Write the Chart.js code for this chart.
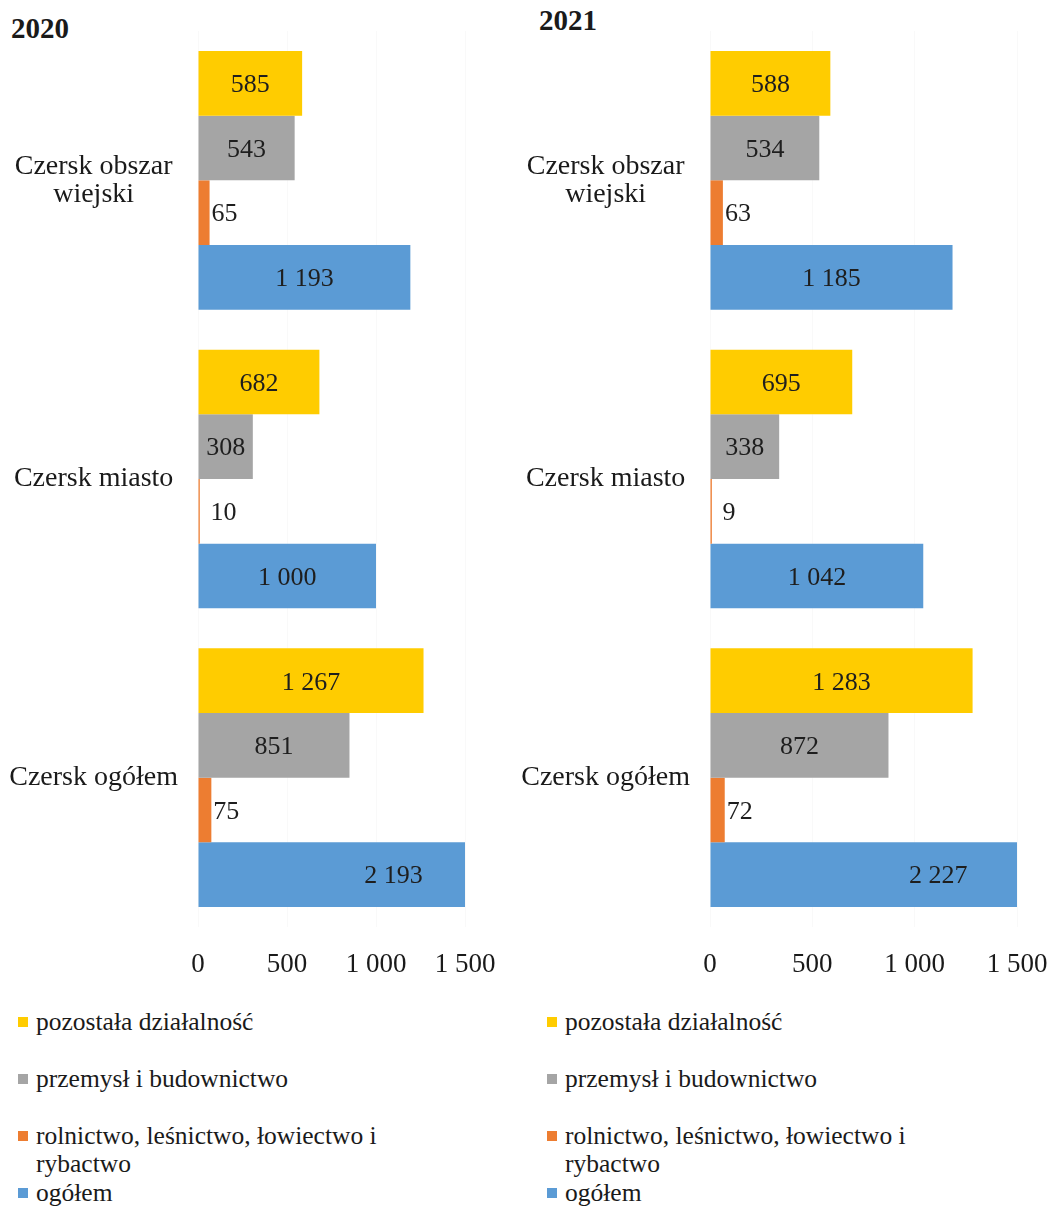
<!DOCTYPE html>
<html lang="pl">
<head>
<meta charset="utf-8">
<script src="https://cdn.jsdelivr.net/npm/chart.js@4.4.0/dist/chart.umd.min.js"></script>
<style>
  body { margin: 0; background: #fff; width: 1058px; height: 1208px; overflow: hidden; position: relative; font-family: "Liberation Serif", serif; color: #1a1a1a; }
  .panel { position: absolute; top: 0; height: 990px; }
  .year { position: absolute; font-weight: bold; font-size: 29px; line-height: 32px; }
  .legend { position: absolute; top: 1008px; font-size: 25.5px; line-height: 28px; }
  .legend-item { position: relative; height: 57px; padding-left: 18px; }
  .legend-item span.box { position: absolute; left: 0; top: 9px; width: 10px; height: 10px; }
</style>
</head>
<body>
<div class="year" style="left:11px; top:12px;">2020</div>
<div class="year" style="left:539px; top:4px;">2021</div>
<div class="panel" style="left:0; width:500px;"><canvas id="chart2020"></canvas></div>
<div class="panel" style="left:500px; width:558px;"><canvas id="chart2021"></canvas></div>
<div class="legend" id="legend2020" style="left:18px; width:400px;"></div>
<div class="legend" id="legend2021" style="left:547px; width:410px;"></div>

<script>
const FONT = '"Liberation Serif", serif';

// Categories (top to bottom)
const categories = [["Czersk obszar", "wiejski"], "Czersk miasto", "Czersk ogółem"];
const seriesNames = ["pozostała działalność", "przemysł i budownictwo", "rolnictwo, leśnictwo, łowiectwo i rybactwo", "ogółem"];
const seriesColors = ["#FFCC00", "#A5A5A5", "#ED7D31", "#5B9BD5"];

// 2020
const pozostala2020 = [585, 682, 1267];
const przemysl2020 = [543, 308, 851];
const rolnictwo2020 = [65, 10, 75];
const ogolem2020 = [1193, 1000, 2193];

// 2021
const pozostala2021 = [588, 695, 1283];
const przemysl2021 = [534, 338, 872];
const rolnictwo2021 = [63, 9, 72];
const ogolem2021 = [1185, 1042, 2227];

const tickValues = [0, 500, 1000, 1500];

function fmt(v) {
  return String(v).replace(/\B(?=(\d{3})+(?!\d))/g, " ");
}

// value labels, Excel style: centred on full bar, small ones just after the bar
const valueLabels = {
  id: "valueLabels",
  afterDatasetsDraw(chart) {
    const ctx = chart.ctx;
    ctx.save();
    ctx.font = "26px " + FONT;
    ctx.fillStyle = "#1e1e1e";
    ctx.textBaseline = "middle";
    chart.data.datasets.forEach((ds, i) => {
      chart.getDatasetMeta(i).data.forEach((bar, j) => {
        const v = ds.data[j];
        if (v < 100) {
          ctx.textAlign = "left";
          ctx.fillText(fmt(v), Math.max(bar.x + 2, bar.base + 12), bar.y + 2);
        } else {
          ctx.textAlign = "center";
          ctx.fillText(fmt(v), (bar.x + bar.base) / 2, bar.y + 2);
        }
      });
    });
    ctx.restore();
  }
};

function makeChart(id, values, axisWidth, padRight) {
  return new Chart(document.getElementById(id), {
    type: "bar",
    data: {
      labels: categories,
      datasets: values.map((d, i) => ({
        label: seriesNames[i],
        data: d,
        backgroundColor: seriesColors[i],
        categoryPercentage: 0.866,
        barPercentage: 1.0
      }))
    },
    options: {
      indexAxis: "y",
      responsive: true,
      maintainAspectRatio: false,
      animation: false,
      layout: { padding: { top: 31, right: padRight, bottom: 0, left: 0 } },
      plugins: {
        legend: { display: false },
        tooltip: { enabled: false }
      },
      scales: {
        x: {
          min: 0,
          max: 1500,
          afterBuildTicks: scale => { scale.ticks = tickValues.map(v => ({ value: v })); },
          afterFit: scale => {
            scale.paddingLeft = 0;
            scale.paddingRight = 0;
            scale.height = 63;
          },
          grid: { color: "rgba(0,0,0,0.025)", drawTicks: false },
          border: { display: false },
          ticks: {
            padding: 22,
            maxRotation: 0,
            color: "#1a1a1a",
            font: { family: FONT, size: 27 },
            callback: v => fmt(v)
          }
        },
        y: {
          grid: { display: false },
          border: { display: false },
          afterFit: scale => {
            scale.width = axisWidth;
            scale.paddingTop = 0;
            scale.paddingBottom = 0;
          },
          ticks: {
            padding: 12,
            crossAlign: "center",
            color: "#1a1a1a",
            font: { family: FONT, size: 28, lineHeight: 1.0 }
          }
        }
      }
    },
    plugins: [valueLabels]
  });
}

makeChart("chart2020", [pozostala2020, przemysl2020, rolnictwo2020, ogolem2020], 198, 35);
makeChart("chart2021", [pozostala2021, przemysl2021, rolnictwo2021, ogolem2021], 210, 41);

// HTML legends
function makeLegend(id) {
  const el = document.getElementById(id);
  seriesNames.forEach((name, i) => {
    const item = document.createElement("div");
    item.className = "legend-item";
    item.innerHTML = `<span class="box" style="background:${seriesColors[i]}"></span>${name}`;
    el.appendChild(item);
  });
}
makeLegend("legend2020");
makeLegend("legend2021");
</script>
</body>
</html>
